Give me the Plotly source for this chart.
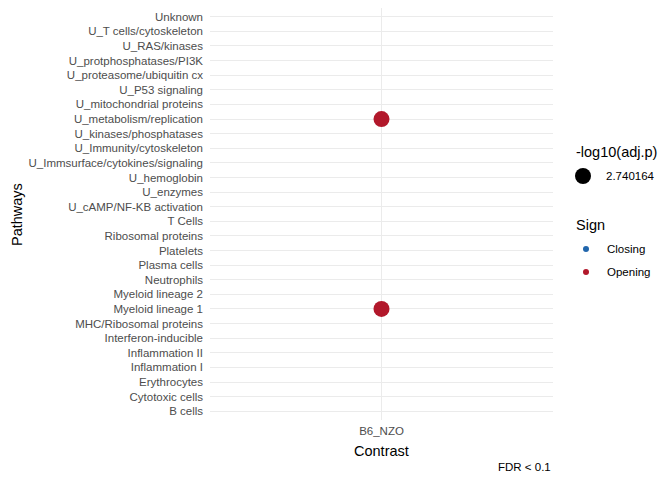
import plotly.graph_objects as go

# pathway categories, bottom to top
pathways = [
    'B cells', 'Cytotoxic cells', 'Erythrocytes', 'Inflammation I', 'Inflammation II',
    'Interferon-inducible', 'MHC/Ribosomal proteins', 'Myeloid lineage 1', 'Myeloid lineage 2',
    'Neutrophils', 'Plasma cells', 'Platelets', 'Ribosomal proteins', 'T Cells',
    'U_cAMP/NF-KB activation', 'U_enzymes', 'U_hemoglobin', 'U_Immsurface/cytokines/signaling',
    'U_Immunity/cytoskeleton', 'U_kinases/phosphatases', 'U_metabolism/replication',
    'U_mitochondrial proteins', 'U_P53 signaling', 'U_proteasome/ubiquitin cx',
    'U_protphosphatases/PI3K', 'U_RAS/kinases', 'U_T cells/cytoskeleton', 'Unknown',
]
contrasts = ['B6_NZO']

# significant hits
hit_contrast = ['B6_NZO', 'B6_NZO']
hit_pathway = ['U_metabolism/replication', 'Myeloid lineage 1']
hit_logp = [2.740164, 2.740164]
hit_sign = ['Opening', 'Opening']

sign_colors = {'Closing': '#2166AC', 'Opening': '#B2182B'}
FONT = 'Liberation Sans, Arial, sans-serif'

fig = go.Figure()
fig.add_trace(go.Scatter(
    x=hit_contrast, y=hit_pathway, mode='markers',
    marker=dict(size=[16 for _ in hit_logp], color=[sign_colors[s] for s in hit_sign],
                opacity=1, line=dict(width=0)),
    showlegend=False, hoverinfo='skip',
))

# page has an 8px body margin, so the figure is 8px smaller and shifted
fig.update_layout(
    width=664, height=472,
    margin=dict(l=202, r=119, t=0, b=60),
    paper_bgcolor='white', plot_bgcolor='white',
    font=dict(family=FONT, color='black'),
    showlegend=False,
)
fig.update_xaxes(
    type='category', categoryorder='array', categoryarray=contrasts,
    range=[-0.6, 0.6], showgrid=True, gridcolor='#EBEBEB', gridwidth=1.2,
    zeroline=False, showline=False, ticks='', automargin=False, ticklabelstandoff=2,
    tickfont=dict(size=11.5, color='#4D4D4D', family=FONT),
)
fig.update_yaxes(
    type='category', categoryorder='array', categoryarray=pathways,
    range=[-0.6, len(pathways) - 0.4], showgrid=True, gridcolor='#EBEBEB', gridwidth=1.2,
    zeroline=False, showline=False, ticks='', automargin=False, ticklabelstandoff=6,
    tickfont=dict(size=11.5, color='#4D4D4D', family=FONT),
)

# legends and titles (paper coords: x 0..1 -> 210..553 px, y 0..1 -> 420..8 px on the page)
def px_x(p):
    return (p - 210) / 343.0

def px_y(p):
    return (420 - p) / 412.0

ann = []
shapes = []
ann.append(dict(text='Contrast', x=0.5, y=px_y(451), xref='paper', yref='paper',
                xanchor='center', yanchor='middle', showarrow=False, font=dict(size=14.5, family=FONT)))
ann.append(dict(text='Pathways', x=px_x(17), y=px_y(215), xref='paper', yref='paper', textangle=-90,
                xanchor='center', yanchor='middle', showarrow=False, borderpad=0,
                font=dict(size=14.5, family=FONT)))
ann.append(dict(text='-log10(adj.p)', x=px_x(574), y=px_y(152), xref='paper', yref='paper',
                xanchor='left', yanchor='middle', showarrow=False, font=dict(size=14.5, family=FONT)))
shapes.append(dict(type='circle', xref='paper', yref='paper', xsizemode='pixel', ysizemode='pixel',
                   xanchor=px_x(583), yanchor=px_y(176), x0=-8, x1=8, y0=-8, y1=8,
                   fillcolor='black', line=dict(width=0)))
ann.append(dict(text='2.740164', x=px_x(604), y=px_y(176), xref='paper', yref='paper',
                xanchor='left', yanchor='middle', showarrow=False, font=dict(size=11.5, family=FONT)))
ann.append(dict(text='Sign', x=px_x(574), y=px_y(225), xref='paper', yref='paper',
                xanchor='left', yanchor='middle', showarrow=False, font=dict(size=14.5, family=FONT)))
for lab, yy in [('Closing', 249), ('Opening', 272)]:
    shapes.append(dict(type='circle', xref='paper', yref='paper', xsizemode='pixel', ysizemode='pixel',
                       xanchor=px_x(586), yanchor=px_y(yy), x0=-3, x1=3, y0=-3, y1=3,
                       fillcolor=sign_colors[lab], line=dict(width=0)))
    ann.append(dict(text=lab, x=px_x(605), y=px_y(yy), xref='paper', yref='paper',
                    xanchor='left', yanchor='middle', showarrow=False, font=dict(size=11.5, family=FONT)))
ann.append(dict(text='FDR < 0.1', x=1, y=px_y(467), xref='paper', yref='paper',
                xanchor='right', yanchor='middle', showarrow=False, font=dict(size=11.5, family=FONT)))

fig.update_layout(annotations=ann, shapes=shapes)
fig.write_html('out.html')
